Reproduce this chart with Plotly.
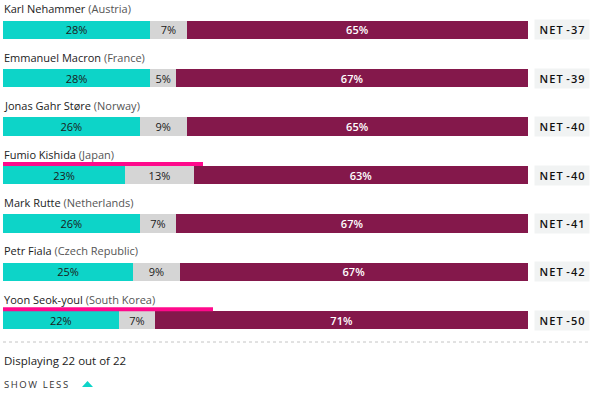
import plotly.graph_objects as go

leaders = ["Karl Nehammer", "Emmanuel Macron", "Jonas Gahr Støre", "Fumio Kishida",
           "Mark Rutte", "Petr Fiala", "Yoon Seok-youl"]
countries = ["Austria", "France", "Norway", "Japan", "Netherlands", "Czech Republic", "South Korea"]
approve = [28, 28, 26, 23, 26, 25, 22]
dont_know = [7, 5, 9, 13, 7, 9, 7]
disapprove = [65, 67, 65, 63, 67, 67, 71]
net = [-37, -39, -40, -40, -41, -42, -50]
highlighted = ["Japan", "South Korea"]
footer_text = "Displaying 22 out of 22"
toggle_text = "SHOW LESS"

W, H = 591, 394


def px(x):
    return x / W


def py(y):
    return 1 - y / H


def spaced(s, sep="\u200a"):
    return sep.join(s)


X0, X1 = 3, 528
ROW0, STEP = 29.8, 48.4
BAR_H = 18.5
FONT = "Open Sans, Lato, sans-serif"
TEAL, GREY, MAROON = "#0dd4c8", "#d5d5d5", "#84184b"
underline_px = {"Japan": 200, "South Korea": 210}

cats = [f"{l} ({c})" for l, c in zip(leaders, countries)]

fig = go.Figure()
series = [
    (approve, TEAL, "#1a1a1a", 400),
    (dont_know, GREY, "#1a1a1a", 400),
    (disapprove, MAROON, "#ffffff", 600),
]
for vals, col, tcol, w in series:
    fig.add_trace(go.Bar(
        y=cats, x=vals, orientation="h",
        marker=dict(color=col, line=dict(width=0)),
        width=BAR_H / STEP,
        text=[f"{v}%" for v in vals], texttemplate="%{text}",
        textposition="inside", insidetextanchor="middle", constraintext="none",
        textfont=dict(family=FONT, size=11, color=tcol, weight=w),
        hoverinfo="skip", showlegend=False,
    ))

annotations = []
shapes = []
for i, (l, c) in enumerate(zip(leaders, countries)):
    annotations.append(dict(
        xref="paper", yref="y", x=px(2), y=cats[i], xanchor="left", yanchor="middle",
        yshift=21, showarrow=False,
        text=f"{l} <span style='color:#555'>({c})</span>",
        font=dict(family=FONT, size=11, color="#222"),
    ))
    annotations.append(dict(
        xref="paper", yref="y", x=px(534), y=cats[i], xanchor="left", yanchor="middle",
        showarrow=False, text=spaced("NET") + "\u2009\u2009" + spaced(str(net[i])),
        width=54, height=19,
        bgcolor="#f1f3f3", align="center", borderpad=0,
        font=dict(family=FONT, size=11, color="#111", weight=600),
    ))
    if c in highlighted:
        shapes.append(dict(
            type="line", xref="paper", yref="y",
            x0=px(3), x1=px(3 + underline_px[c]),
            ysizemode="pixel", yanchor=i, y0=11, y1=11,
            line=dict(color="#ff0a8c", width=4),
        ))

# dashed separator
shapes.append(dict(type="line", xref="paper", yref="paper",
                   x0=px(3), x1=1, y0=py(342), y1=py(342),
                   line=dict(color="#c4c4c4", width=1, dash="3px,3px")))
# triangle
shapes.append(dict(type="path", xref="paper", yref="paper",
                   path=f"M {px(82)} {py(387)} L {px(93)} {py(387)} L {px(87.5)} {py(381)} Z",
                   fillcolor=TEAL, line=dict(width=0)))

annotations.append(dict(xref="paper", yref="paper", x=px(2), y=py(360),
                        xanchor="left", yanchor="middle", showarrow=False,
                        text=footer_text, font=dict(family=FONT, size=11.5, color="#222")))
annotations.append(dict(xref="paper", yref="paper", x=px(2), y=py(384),
                        xanchor="left", yanchor="middle", showarrow=False,
                        text=spaced(toggle_text, "\u2009"),
                        font=dict(family=FONT, size=9.5, color="#333")))

fig.update_layout(
    width=W, height=H, margin=dict(l=0, r=0, t=0, b=0),
    barmode="stack", barnorm="percent",
    plot_bgcolor="white", paper_bgcolor="white",
    xaxis=dict(domain=[px(X0), px(X1)], range=[0, 100], visible=False, fixedrange=True),
    yaxis=dict(range=[(H - ROW0) / STEP, -ROW0 / STEP], visible=False, fixedrange=True),
    annotations=annotations, shapes=shapes,
)

fig.write_html(
    "out.html",
    config={"displayModeBar": False},
    post_script="document.body.style.margin='0';document.body.style.overflow='hidden';",
)
